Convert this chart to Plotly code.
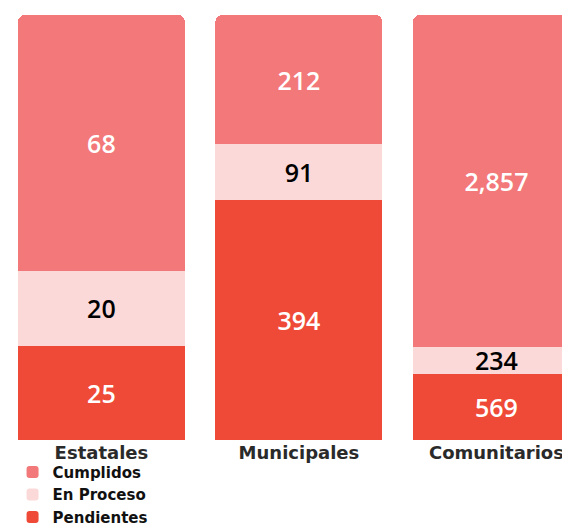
import plotly.graph_objects as go

categories = ["Estatales", "Municipales", "Comunitarios"]
cumplidos = [68, 212, 2857]
en_proceso = [20, 91, 234]
pendientes = [25, 394, 569]

series = [
    ("Pendientes", pendientes, "#ef4a37", "white"),
    ("En Proceso", en_proceso, "#fbd9d8", "black"),
    ("Cumplidos", cumplidos, "#f2787a", "white"),
]

fig = go.Figure()
for name, vals, color, tcolor in series:
    fig.add_trace(go.Bar(
        x=categories, y=vals, name=name,
        marker=dict(color=color, line=dict(width=0)),
        text=[f"{v:,}" for v in vals],
        textposition="inside", insidetextanchor="middle",
        textfont=dict(color=tcolor, size=25, family="Open Sans", weight=600),
        constraintext="none",
        width=0.846,
        hoverinfo="skip",
    ))

fig.update_layout(
    width=570, height=526,
    barmode="stack", barnorm="percent",
    barcornerradius=7,
    margin=dict(l=0, r=0, t=7, b=94, autoexpand=False),
    paper_bgcolor="white", plot_bgcolor="white",
    font=dict(family="DejaVu Sans", color="#222"),
    xaxis=dict(range=[-0.473, 2.413], showgrid=False, zeroline=False, showline=False,
               ticks="", tickfont=dict(size=18, color="#2a2a2a", family="DejaVu Sans",
                                       weight="bold"),
               ticklabelstandoff=0),
    yaxis=dict(range=[0, 100], visible=False),
    showlegend=True,
    legend=dict(traceorder="reversed", orientation="v", x=0.008, xanchor="left",
                xref="container", yref="container",
                y=0.149, yanchor="top",
                font=dict(size=15, color="#111", family="DejaVu Sans", weight="bold"),
                itemwidth=30, tracegroupgap=0, bgcolor="rgba(0,0,0,0)"),
)

fig.write_html("out.html")
